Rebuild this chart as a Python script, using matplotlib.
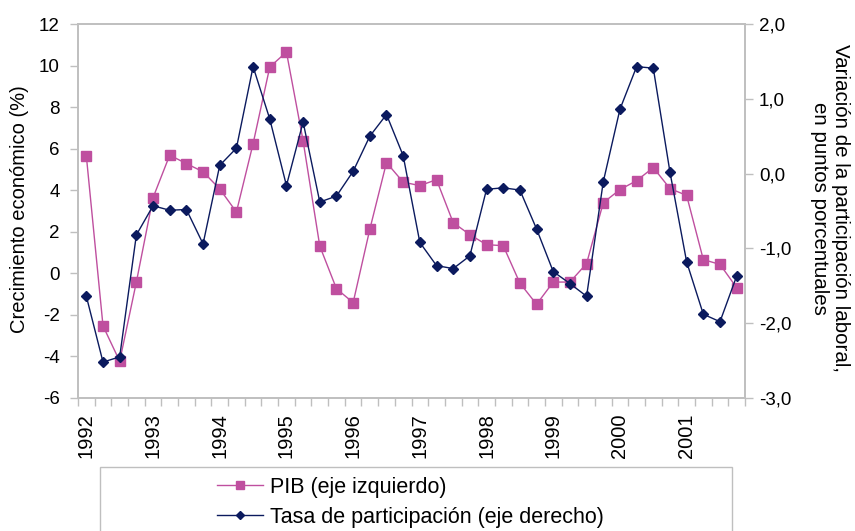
import numpy as np
import matplotlib.pyplot as plt
from matplotlib.patches import Rectangle

plt.rcParams['font.family'] = ['Liberation Sans', 'DejaVu Sans']
plt.rcParams['axes.unicode_minus'] = False

years = ["1992", "1993", "1994", "1995", "1996", "1997", "1998", "1999", "2000", "2001"]

# crecimiento del PIB trimestral (%), eje izquierdo
pib = [5.65, -2.53, -4.23, -0.42, 3.64, 5.69, 5.28, 4.89, 4.06, 2.95,
       6.24, 9.93, 10.65, 6.37, 1.31, -0.74, -1.41, 2.12, 5.33, 4.39,
       4.22, 4.51, 2.44, 1.86, 1.38, 1.33, -0.47, -1.49, -0.42, -0.42,
       0.47, 3.40, 4.03, 4.46, 5.09, 4.08, 3.75, 0.66, 0.43, -0.69]

# variacion de la tasa de participacion (puntos), eje derecho
tasa = [-1.64, -2.52, -2.45, -0.82, -0.43, -0.49, -0.48, -0.94, 0.11, 0.34,
        1.43, 0.73, -0.16, 0.69, -0.38, -0.30, 0.03, 0.50, 0.79, 0.24,
        -0.92, -1.23, -1.27, -1.10, -0.21, -0.19, -0.22, -0.74, -1.31, -1.47,
        -1.64, -0.11, 0.86, 1.43, 1.41, 0.02, -1.18, -1.88, -1.98, -1.37]

x = np.arange(len(pib))
c_pib = "#BF4F9F"
c_tasa = "#0B1A5E"
gris = "#BFBFBF"

fig = plt.figure(figsize=(8.55, 5.31), dpi=100)
ax = fig.add_axes([78/855, 1-398/531, 667/855, 374/531])
ax2 = ax.twinx()

l1, = ax.plot(x, pib, color=c_pib, lw=1.0, marker="s", ms=7, mec=c_pib,
              label="PIB (eje izquierdo)")
l2, = ax2.plot(x, tasa, color=c_tasa, lw=1.0, marker="D", ms=5.5, mec=c_tasa,
               label="Tasa de participación (eje derecho)")

ax.set_xlim(-0.5, len(pib) - 0.5)
ax.set_ylim(-6, 12)
ax.set_yticks(np.arange(-6, 13, 2))
ax2.set_ylim(-3, 2)
ax2.set_yticks(np.arange(-3, 2.1, 1))
ax2.set_yticklabels([f"{v:.1f}".replace(".", ",") for v in np.arange(-3, 2.1, 1)])

ax.set_xticks(np.arange(0, len(pib), 4))
ax.set_xticklabels(years, rotation=90)
ax.set_xticks(np.arange(-0.5, len(pib), 1), minor=True)
ax.tick_params(axis="x", which="major", length=0, pad=11, labelsize=14.5)
ax.tick_params(axis="x", which="minor", length=6, color=gris, width=1)

for a in (ax, ax2):
    for s in a.spines.values():
        s.set_color(gris)
        s.set_linewidth(1.2)
ax.tick_params(axis="y", length=6, color=gris, width=1, labelsize=13.5, pad=7)
ax2.tick_params(axis="y", length=6, color=gris, width=1, labelsize=13.5, pad=4)

# titulos de los ejes
fig.text(20/855, 1 - 209/531, "Crecimiento económico (%)", fontsize=14.5,
         rotation=90, ha="center", va="center")
fig.text(830/855, 1 - 208/531,
         "Variación de la participación laboral,\nen puntos porcentuales",
         fontsize=14.8, rotation=270, ha="center", va="center",
         multialignment="center", linespacing=1.15)

# recuadro de la leyenda, cortado por el borde inferior
fig.patches.append(Rectangle((100/855, -0.05), 632/855, 0.05 + 1 - 467/531,
                             transform=fig.transFigure, fill=False,
                             edgecolor=gris, lw=1))
fig.legend(handles=[l1, l2], loc="upper left",
           bbox_to_anchor=(217/855, 1 - 477/531), frameon=False,
           fontsize=15.5, handlelength=2.15, handletextpad=0.33,
           labelspacing=0.4, borderaxespad=0, borderpad=0, markerscale=0.75)

fig.savefig("out.png", dpi=100)
